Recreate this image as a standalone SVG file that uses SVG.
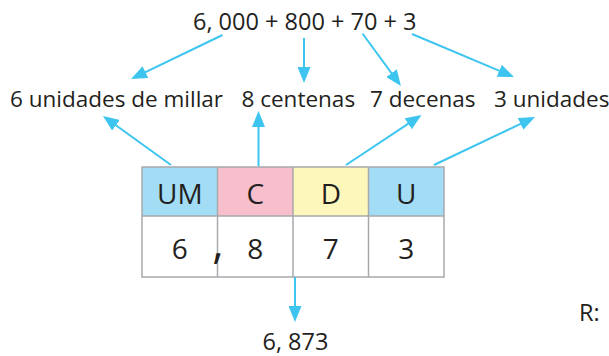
<svg xmlns="http://www.w3.org/2000/svg" width="609" height="356" viewBox="0 0 609 356">
<style>
  text { font-family: "Open Sans", "Noto Sans", sans-serif; fill: #231f20; }
  .lbl { font-size: 22.5px; }
  .top { font-size: 23.5px; }
  .cell { font-size: 28px; text-anchor: middle; }
  .grid { stroke: #a7a9ac; stroke-width: 1.5; }
  .arr { stroke: #3dc5f0; stroke-width: 2; fill: none; marker-end: url(#ah); }
</style>
<defs>
  <marker id="ah" markerUnits="userSpaceOnUse" markerWidth="16" markerHeight="13" refX="12" refY="6.5" orient="auto">
    <path d="M0,0 L16,6.5 L0,13 z" fill="#3dc5f0"/>
  </marker>
</defs>
<g id="sum"><text class="top" x="193" y="29.5">6, 000 + 800 + 70 + 3</text></g>
<g id="label-um"><text class="lbl" x="10" y="107">6 unidades de millar</text></g>
<g id="label-c"><text class="lbl" x="241.5" y="107">8 centenas</text></g>
<g id="label-d"><text class="lbl" x="370" y="107">7 decenas</text></g>
<g id="label-u"><text class="lbl" x="494" y="107">3 unidades</text></g>
<g id="table">
  <rect x="142" y="167" width="75.5" height="49" fill="#a3dcf5"/>
  <rect x="217.5" y="167" width="75.5" height="49" fill="#f7bfcb"/>
  <rect x="293" y="167" width="75.5" height="49" fill="#fdf7bb"/>
  <rect x="368.5" y="167" width="75.5" height="49" fill="#a3dcf5"/>
  <rect x="142" y="216" width="302" height="61" fill="#ffffff"/>
  <rect class="grid" x="142" y="167" width="302" height="110" fill="none"/>
  <line class="grid" x1="142" y1="216" x2="444" y2="216"/>
  <line class="grid" x1="217.5" y1="167" x2="217.5" y2="277"/>
  <line class="grid" x1="293" y1="167" x2="293" y2="277"/>
  <line class="grid" x1="368.5" y1="167" x2="368.5" y2="277"/>
  <text class="cell" x="179.8" y="204">UM</text>
  <text class="cell" x="255.3" y="204">C</text>
  <text class="cell" x="330.8" y="204">D</text>
  <text class="cell" x="406.3" y="204">U</text>
  <text class="cell" x="179.8" y="259">6</text>
  <text class="cell" x="218" y="258" style="font-size:44px">,</text>
  <text class="cell" x="255.3" y="259">8</text>
  <text class="cell" x="330.8" y="259">7</text>
  <text class="cell" x="406.3" y="259">3</text>
</g>
<g id="result"><text class="top" x="262.5" y="349.5">6, 873</text></g>
<g id="answer"><text class="top" x="579" y="321">R:</text></g>
<g id="connectors">
  <line class="arr" x1="222.5" y1="35" x2="134.6" y2="77.3"/>
  <line class="arr" x1="304" y1="38" x2="304" y2="79"/>
  <line class="arr" x1="362.5" y1="33.5" x2="398.6" y2="82.8"/>
  <line class="arr" x1="412" y1="34" x2="510.3" y2="75.4"/>
  <line class="arr" x1="171" y1="165" x2="106.2" y2="118.3"/>
  <line class="arr" x1="258.5" y1="166" x2="258.5" y2="115"/>
  <line class="arr" x1="346" y1="165" x2="418.2" y2="117.2"/>
  <line class="arr" x1="434" y1="165" x2="531.4" y2="118.7"/>
  <line class="arr" x1="295" y1="277" x2="295" y2="318"/>
</g>
</svg>
